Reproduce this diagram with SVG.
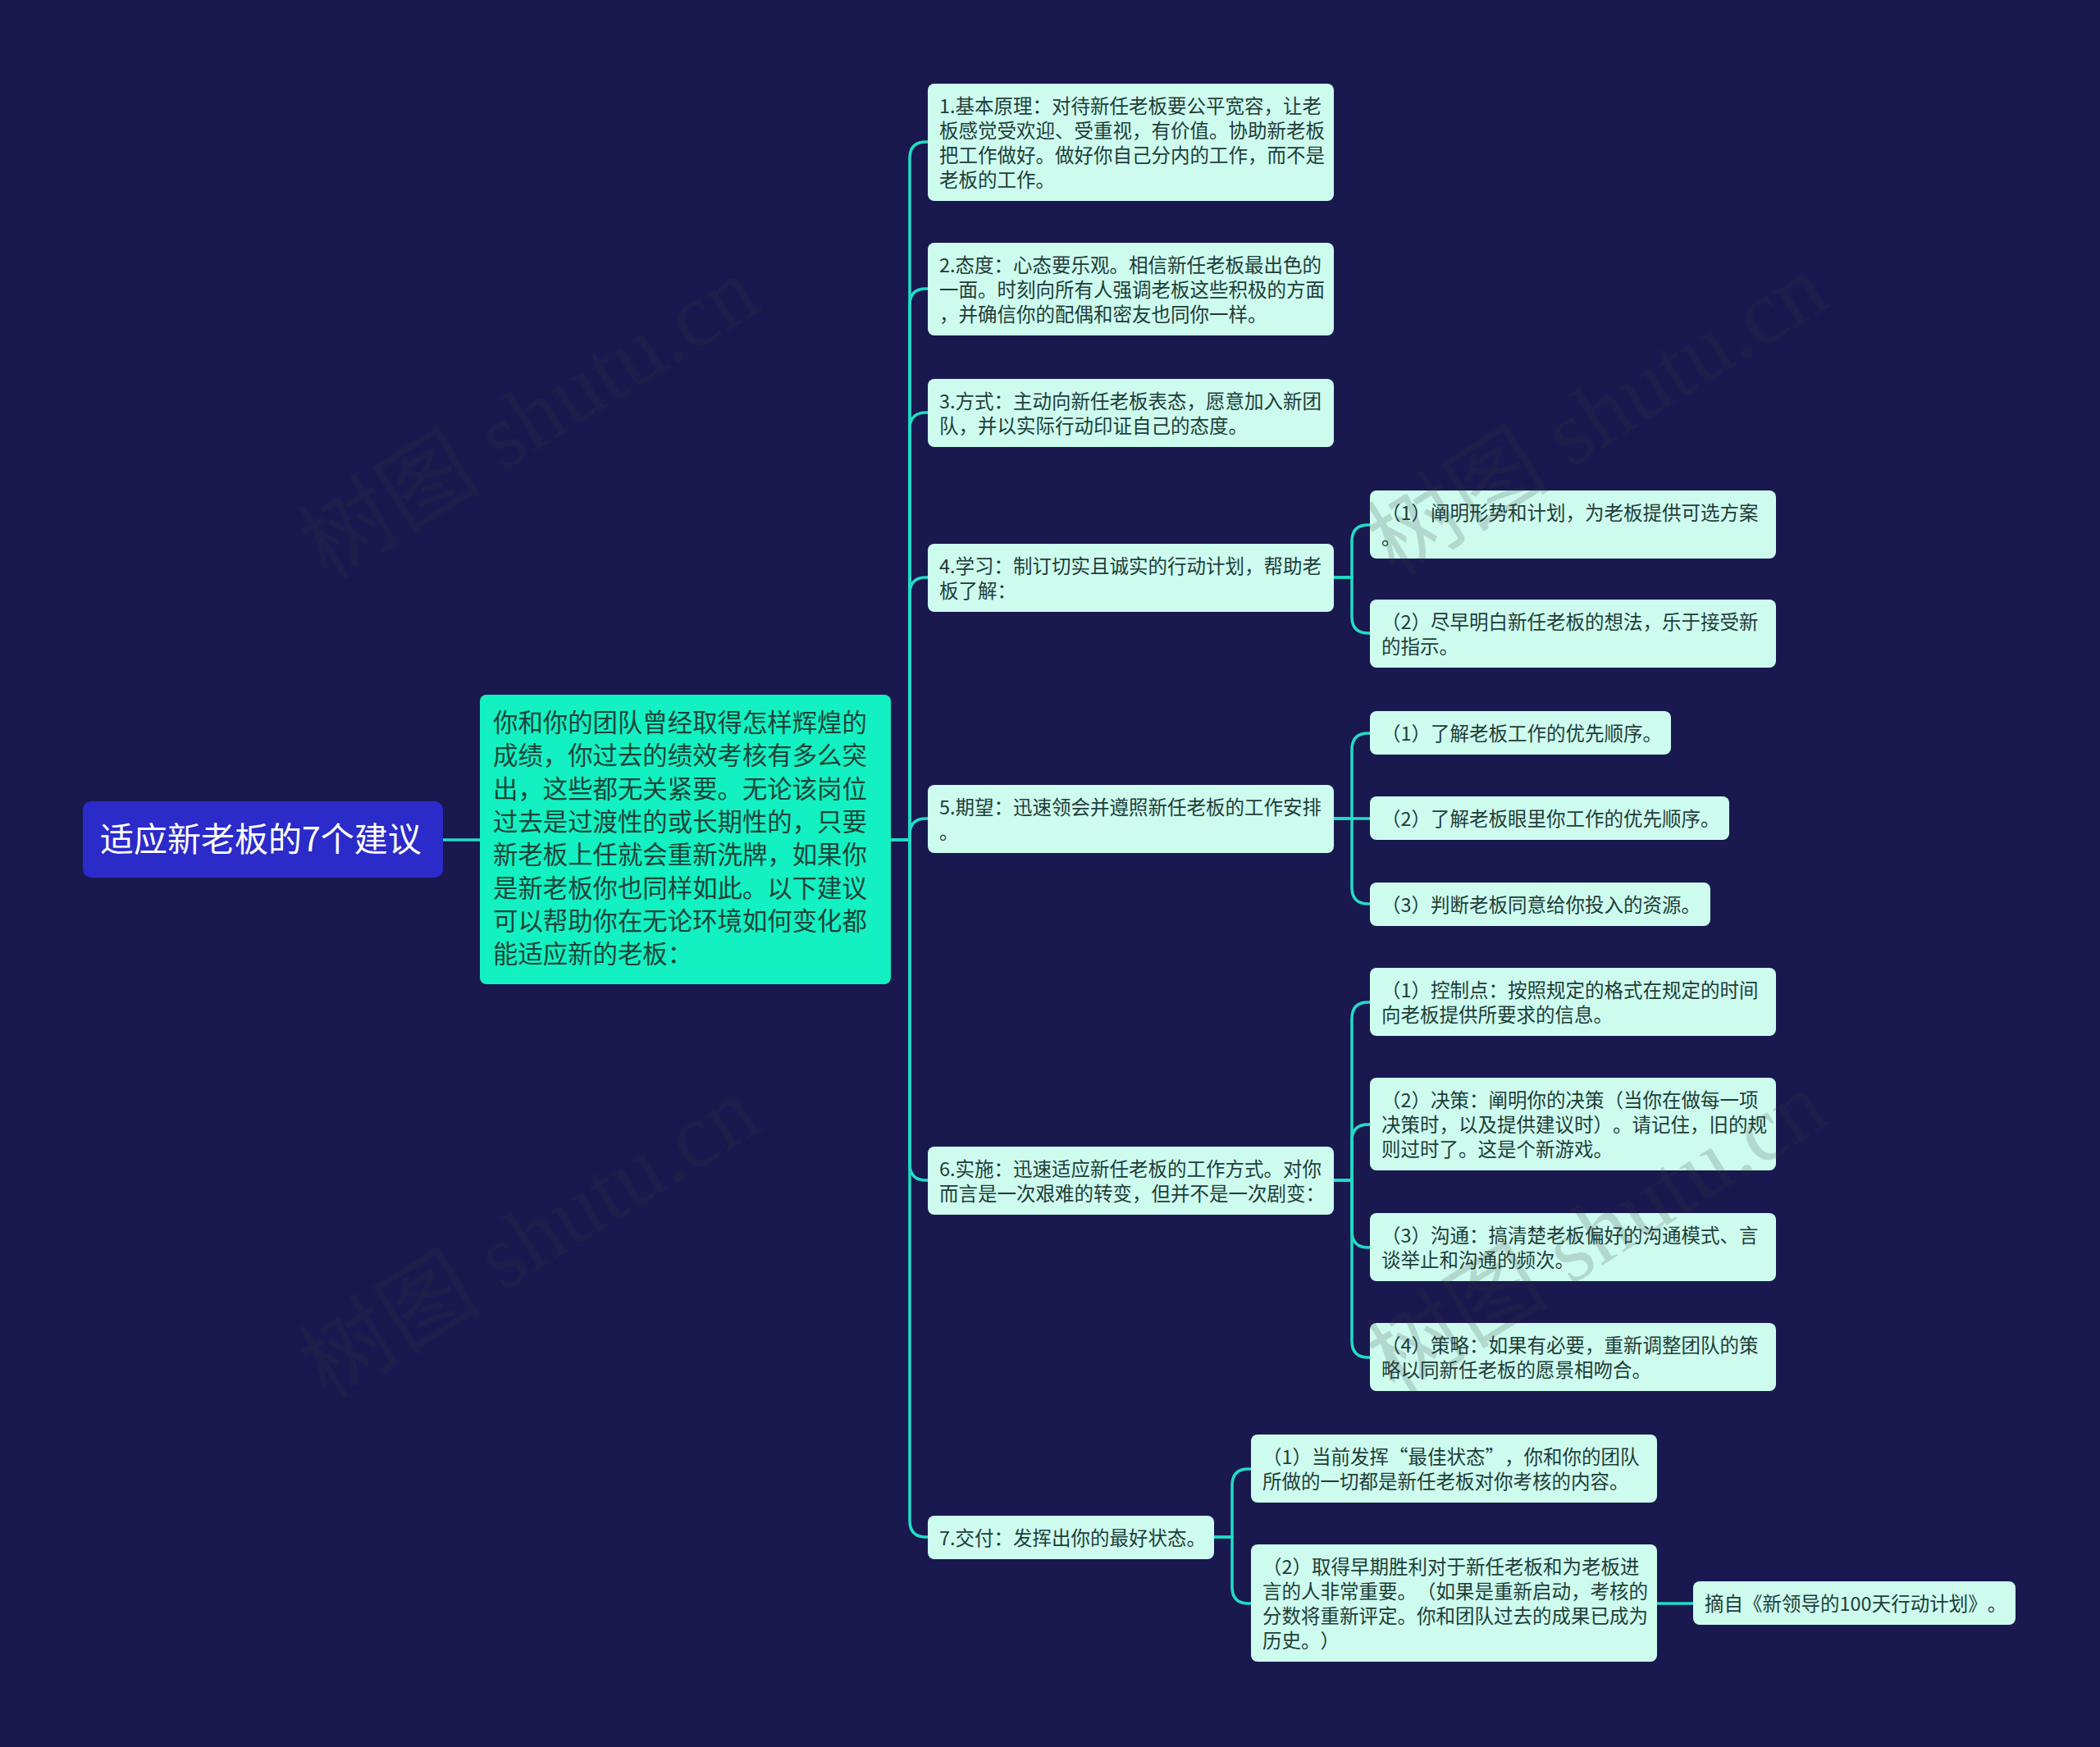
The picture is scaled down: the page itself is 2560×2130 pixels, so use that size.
<svg xmlns="http://www.w3.org/2000/svg" width="2560" height="2130" viewBox="0 0 2560 2130">
<style>
text{text-spacing-trim:space-all}
.bg{fill:#19184f}
.link{fill:none;stroke:#22dcc6;stroke-width:3.5;stroke-linecap:round}
.n2{fill:#cdfcef}
.t{font-family:"Noto Sans CJK SC","Noto Sans",sans-serif;font-size:23.5px;fill:#1f3d38}
.big{fill:#13f0c2}
.tb{font-family:"Noto Sans CJK SC","Noto Sans",sans-serif;font-size:30.4px;fill:#1a4438}
.root{fill:#2b2bc9}
.tr{font-family:"Noto Sans CJK SC","Noto Sans",sans-serif;font-size:41px;fill:#ffffff}
.wm{font-family:"Liberation Serif","Noto Sans CJK SC",serif;font-size:112px;fill:#3c3c3c;opacity:0.18}
</style>
<rect class="bg" x="0" y="0" width="2560" height="2130"/>

<g id="connectors">
<path class="link" d="M540 1024 H585"/>
<path class="link" d="M1086 1024 H1109 V193 Q1109 173 1129 173 H1131"/>
<path class="link" d="M1086 1024 H1109 V372 Q1109 352 1129 352 H1131"/>
<path class="link" d="M1086 1024 H1109 V523 Q1109 503 1129 503 H1131"/>
<path class="link" d="M1086 1024 H1109 V724 Q1109 704 1129 704 H1131"/>
<path class="link" d="M1086 1024 H1109 V1018 Q1109 998 1129 998 H1131"/>
<path class="link" d="M1086 1024 H1109 V1419 Q1109 1439 1129 1439 H1131"/>
<path class="link" d="M1086 1024 H1109 V1854 Q1109 1874 1129 1874 H1131"/>
<path class="link" d="M1626 704 H1648 V660 Q1648 640 1668 640 H1670"/>
<path class="link" d="M1626 704 H1648 V752 Q1648 772 1668 772 H1670"/>
<path class="link" d="M1626 998 H1648 V914 Q1648 894 1668 894 H1670"/>
<path class="link" d="M1626 998 H1670"/>
<path class="link" d="M1626 998 H1648 V1082 Q1648 1102 1668 1102 H1670"/>
<path class="link" d="M1626 1439 H1648 V1242 Q1648 1222 1668 1222 H1670"/>
<path class="link" d="M1626 1439 H1648 V1391 Q1648 1371 1668 1371 H1670"/>
<path class="link" d="M1626 1439 H1648 V1501 Q1648 1521 1668 1521 H1670"/>
<path class="link" d="M1626 1439 H1648 V1635 Q1648 1655 1668 1655 H1670"/>
<path class="link" d="M1480 1874 H1502 V1811 Q1502 1791 1522 1791 H1525"/>
<path class="link" d="M1480 1874 H1502 V1935 Q1502 1955 1522 1955 H1525"/>
<path class="link" d="M2020 1955 H2064"/>
</g>

<g id="root">
<rect class="root" x="101" y="977" width="439" height="93" rx="10"/>
<text class="tr" x="318" y="1038" text-anchor="middle">适应新老板的7个建议</text>
</g>

<g id="main">
<rect class="big" x="585" y="847" width="501" height="353" rx="8"/>
<text class="tb" x="601" y="892">你和你的团队曾经取得怎样辉煌的</text>
<text class="tb" x="601" y="932.3">成绩，你过去的绩效考核有多么突</text>
<text class="tb" x="601" y="972.6">出，这些都无关紧要。无论该岗位</text>
<text class="tb" x="601" y="1012.9">过去是过渡性的或长期性的，只要</text>
<text class="tb" x="601" y="1053.2">新老板上任就会重新洗牌，如果你</text>
<text class="tb" x="601" y="1093.5">是新老板你也同样如此。以下建议</text>
<text class="tb" x="601" y="1133.8">可以帮助你在无论环境如何变化都</text>
<text class="tb" x="601" y="1174.1">能适应新的老板：</text>
</g>

<g id="n1">
<rect class="n2" x="1131" y="102" width="495" height="143" rx="8"/>
<text class="t" x="1145" y="138">1.基本原理：对待新任老板要公平宽容，让老</text>
<text class="t" x="1145" y="168">板感觉受欢迎、受重视，有价值。协助新老板</text>
<text class="t" x="1145" y="198">把工作做好。做好你自己分内的工作，而不是</text>
<text class="t" x="1145" y="228">老板的工作。</text>
</g>

<g id="n2">
<rect class="n2" x="1131" y="296" width="495" height="113" rx="8"/>
<text class="t" x="1145" y="332">2.态度：心态要乐观。相信新任老板最出色的</text>
<text class="t" x="1145" y="362">一面。时刻向所有人强调老板这些积极的方面</text>
<text class="t" x="1145" y="392">，并确信你的配偶和密友也同你一样。</text>
</g>

<g id="n3">
<rect class="n2" x="1131" y="462" width="495" height="83" rx="8"/>
<text class="t" x="1145" y="498">3.方式：主动向新任老板表态，愿意加入新团</text>
<text class="t" x="1145" y="528">队，并以实际行动印证自己的态度。</text>
</g>

<g id="n4">
<rect class="n2" x="1131" y="663" width="495" height="83" rx="8"/>
<text class="t" x="1145" y="699">4.学习：制订切实且诚实的行动计划，帮助老</text>
<text class="t" x="1145" y="729">板了解：</text>
</g>

<g id="n5">
<rect class="n2" x="1131" y="957" width="495" height="83" rx="8"/>
<text class="t" x="1145" y="993">5.期望：迅速领会并遵照新任老板的工作安排</text>
<text class="t" x="1145" y="1023">。</text>
</g>

<g id="n6">
<rect class="n2" x="1131" y="1398" width="495" height="83" rx="8"/>
<text class="t" x="1145" y="1434">6.实施：迅速适应新任老板的工作方式。对你</text>
<text class="t" x="1145" y="1464">而言是一次艰难的转变，但并不是一次剧变：</text>
</g>

<g id="n7">
<rect class="n2" x="1131" y="1848" width="349" height="53" rx="8"/>
<text class="t" x="1145" y="1884">7.交付：发挥出你的最好状态。</text>
</g>

<g id="n4-1">
<rect class="n2" x="1670" y="598" width="495" height="83" rx="8"/>
<text class="t" x="1684" y="634">（1）阐明形势和计划，为老板提供可选方案</text>
<text class="t" x="1684" y="664">。</text>
</g>
<g id="n4-2">
<rect class="n2" x="1670" y="731" width="495" height="83" rx="8"/>
<text class="t" x="1684" y="767">（2）尽早明白新任老板的想法，乐于接受新</text>
<text class="t" x="1684" y="797">的指示。</text>
</g>

<g id="n5-1">
<rect class="n2" x="1670" y="867" width="367" height="53" rx="8"/>
<text class="t" x="1684" y="903">（1）了解老板工作的优先顺序。</text>
</g>
<g id="n5-2">
<rect class="n2" x="1670" y="971" width="438" height="53" rx="8"/>
<text class="t" x="1684" y="1007">（2）了解老板眼里你工作的优先顺序。</text>
</g>
<g id="n5-3">
<rect class="n2" x="1670" y="1076" width="415" height="53" rx="8"/>
<text class="t" x="1684" y="1112">（3）判断老板同意给你投入的资源。</text>
</g>

<g id="n6-1">
<rect class="n2" x="1670" y="1180" width="495" height="83" rx="8"/>
<text class="t" x="1684" y="1216">（1）控制点：按照规定的格式在规定的时间</text>
<text class="t" x="1684" y="1246">向老板提供所要求的信息。</text>
</g>
<g id="n6-2">
<rect class="n2" x="1670" y="1314" width="495" height="113" rx="8"/>
<text class="t" x="1684" y="1350">（2）决策：阐明你的决策（当你在做每一项</text>
<text class="t" x="1684" y="1380">决策时，以及提供建议时）。请记住，旧的规</text>
<text class="t" x="1684" y="1410">则过时了。这是个新游戏。</text>
</g>
<g id="n6-3">
<rect class="n2" x="1670" y="1479" width="495" height="83" rx="8"/>
<text class="t" x="1684" y="1515">（3）沟通：搞清楚老板偏好的沟通模式、言</text>
<text class="t" x="1684" y="1545">谈举止和沟通的频次。</text>
</g>
<g id="n6-4">
<rect class="n2" x="1670" y="1613" width="495" height="83" rx="8"/>
<text class="t" x="1684" y="1649">（4）策略：如果有必要，重新调整团队的策</text>
<text class="t" x="1684" y="1679">略以同新任老板的愿景相吻合。</text>
</g>

<g id="n7-1">
<rect class="n2" x="1525" y="1749" width="495" height="83" rx="8"/>
<text class="t" x="1539" y="1785">（1）当前发挥“最佳状态”，你和你的团队</text>
<text class="t" x="1539" y="1815">所做的一切都是新任老板对你考核的内容。</text>
</g>
<g id="n7-2">
<rect class="n2" x="1525" y="1883" width="495" height="143" rx="8"/>
<text class="t" x="1539" y="1919">（2）取得早期胜利对于新任老板和为老板进</text>
<text class="t" x="1539" y="1949">言的人非常重要。（如果是重新启动，考核的</text>
<text class="t" x="1539" y="1979">分数将重新评定。你和团队过去的成果已成为</text>
<text class="t" x="1539" y="2009">历史。）</text>
</g>
<g id="leaf">
<rect class="n2" x="2064" y="1928" width="393" height="53" rx="8"/>
<text class="t" x="2078" y="1964">摘自《新领导的100天行动计划》。</text>
</g>

<g id="watermarks">
<text class="wm" x="645" y="548" text-anchor="middle" transform="rotate(-32 645 510)">树图 shutu.cn</text>
<text class="wm" x="645" y="1548" text-anchor="middle" transform="rotate(-32 645 1510)">树图 shutu.cn</text>
<text class="wm" x="1947" y="544" text-anchor="middle" transform="rotate(-32 1947 506)">树图 shutu.cn</text>
<text class="wm" x="1947" y="1540" text-anchor="middle" transform="rotate(-32 1947 1502)">树图 shutu.cn</text>
</g>
</svg>
